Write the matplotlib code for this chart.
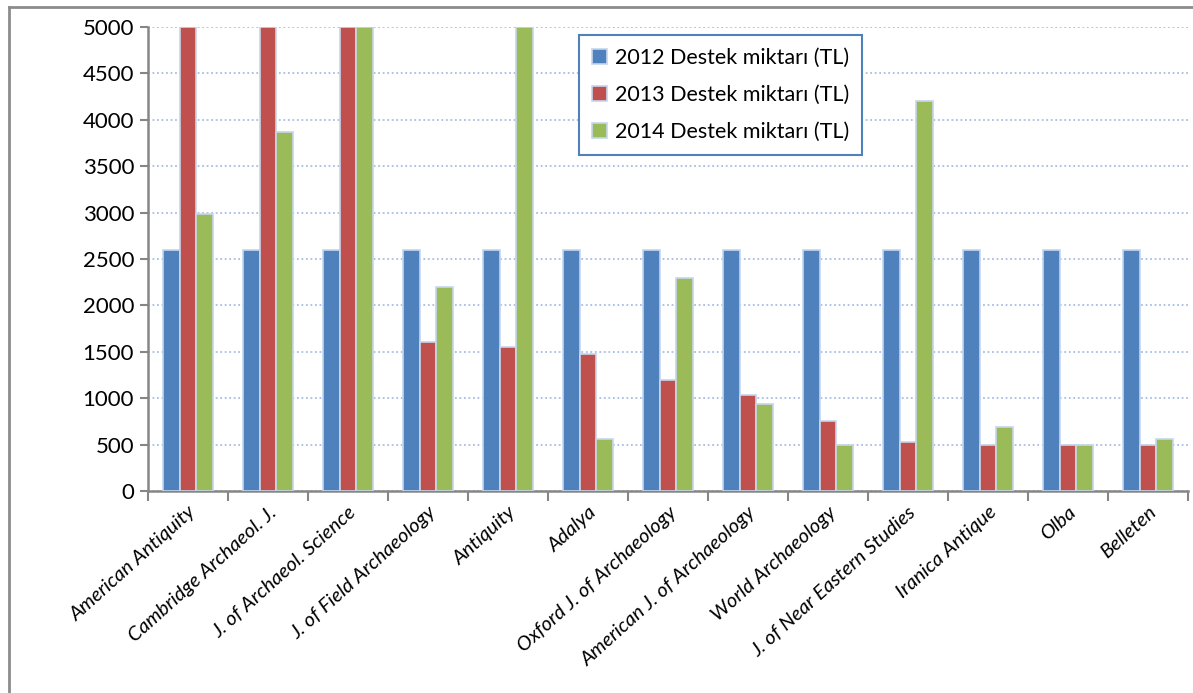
import numpy as np
import matplotlib.pyplot as plt
from matplotlib.lines import Line2D

journals = ["American Antiquity", "Cambridge Archaeol. J.", "J. of Archaeol. Science",
            "J. of Field Archaeology", "Antiquity", "Adalya", "Oxford J. of Archaeology",
            "American J. of Archaeology", "World Archaeology", "J. of Near Eastern Studies",
            "Iranica Antique", "Olba", "Belleten"]
y2012 = [2600, 2600, 2600, 2600, 2600, 2600, 2600, 2600, 2600, 2600, 2600, 2600, 2600]
y2013 = [5000, 5000, 5000, 1610, 1550, 1480, 1200, 1030, 750, 525, 500, 500, 500]
y2014 = [2980, 3870, 5000, 2200, 5000, 560, 2300, 940, 500, 4200, 690, 500, 560]
series = ["2012 Destek miktarı (TL)", "2013 Destek miktarı (TL)", "2014 Destek miktarı (TL)"]
colors = ["#4f81bd", "#c0504d", "#9bbb59"]

plt.rcParams['font.family'] = ['Lato', 'DejaVu Sans']

fig = plt.figure(figsize=(11.93, 6.93), dpi=100)
ax = fig.add_axes([0.1241, 0.2915, 0.8717, 0.6695])

x = np.arange(len(journals))
w = 0.21
for i, (vals, lab, c) in enumerate(zip([y2012, y2013, y2014], series, colors)):
    ax.bar(x + (i - 1) * w, vals, w, color=c, edgecolor="#c6d6ec", linewidth=1.2,
           label=lab, zorder=3)

ax.set_xlim(-0.5, len(journals) - 0.5)
ax.set_ylim(0, 5000)
ax.set_yticks(np.arange(0, 5001, 500))
ax.tick_params(axis='y', labelsize=16, length=6, color="#868686", width=1.5, pad=4)
ax.yaxis.grid(True, linestyle=(0, (1, 1.5)), color="#a7bde6", linewidth=1.3, zorder=0)

ax.set_xticks(np.arange(-0.5, len(journals)), minor=False)
ax.set_xticklabels([])
ax.set_xticks(x, minor=True)
ax.set_xticklabels(journals, minor=True, rotation=42, ha='right', rotation_mode='anchor',
                   fontsize=14.5, style='italic')
ax.tick_params(axis='x', which='major', length=7, color="#868686", width=1.5)
ax.tick_params(axis='x', which='minor', length=0, pad=9)

for s in ["top", "right"]:
    ax.spines[s].set_visible(False)
for s in ["left", "bottom"]:
    ax.spines[s].set_color("#868686")
    ax.spines[s].set_linewidth(1.8)

leg = ax.legend(loc='upper left', bbox_to_anchor=(0.414, 0.983), fontsize=15.5,
                handlelength=0.7, handleheight=0.7, handletextpad=0.4,
                labelspacing=0.8, borderpad=0.6, borderaxespad=0,
                fancybox=False, framealpha=1)
leg.get_frame().set_edgecolor("#4f81bd")
leg.get_frame().set_linewidth(1.5)

# outer chart border (top and left visible)
fig.add_artist(Line2D([0.0076, 1.0], [0.99, 0.99], transform=fig.transFigure,
                      color="#8c8c8c", linewidth=2))
fig.add_artist(Line2D([0.0076, 0.0076], [0.0, 0.99], transform=fig.transFigure,
                      color="#8c8c8c", linewidth=2))

fig.savefig("out.png", dpi=100)
